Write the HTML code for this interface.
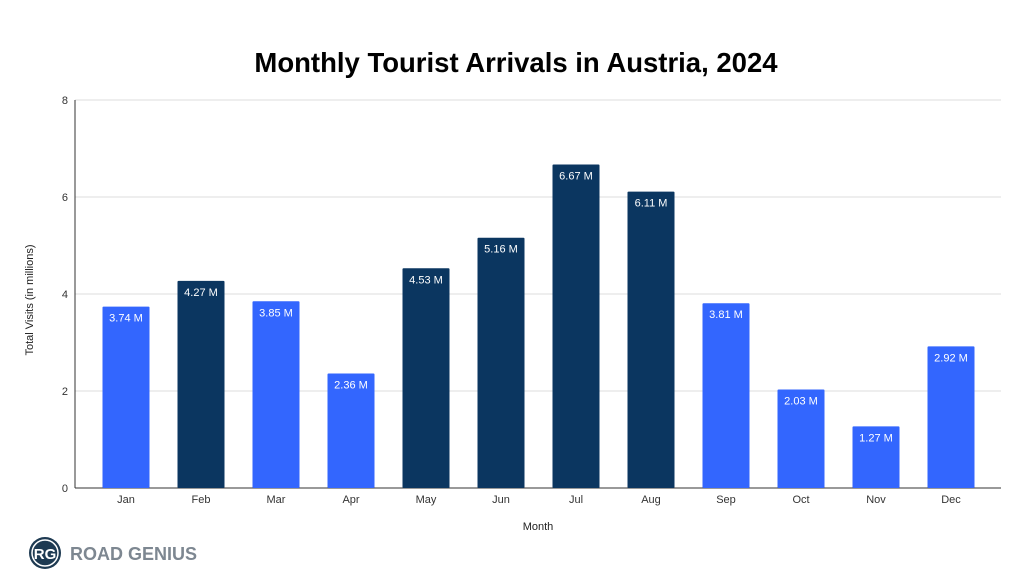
<!DOCTYPE html>
<html><head><meta charset="utf-8"><style>
body{margin:0;background:#fff;width:1024px;height:582px;overflow:hidden;font-family:"Liberation Sans",sans-serif}
</style></head><body>
<svg width="1024" height="582">
<text x="516" y="72" text-anchor="middle" font-size="27.5" font-weight="bold" fill="#000">Monthly Tourist Arrivals in Austria, 2024</text>
<g id="grid"></g><g id="bars"></g>
<text x="538" y="530" text-anchor="middle" font-size="11" fill="#222">Month</text>
<text transform="translate(33,300) rotate(-90)" text-anchor="middle" font-size="11" fill="#222">Total Visits (in millions)</text>
<g>
<circle cx="45" cy="553" r="16" fill="#1e3a52"/><circle cx="45" cy="553" r="13" fill="none" stroke="#fff" stroke-width="1.5"/>
<text x="45" y="559" text-anchor="middle" font-size="15" font-weight="bold" fill="#fff">RG</text>
<text x="70" y="560" font-size="18" font-weight="bold" fill="#7d8791">ROAD GENIUS</text>
</g>
</svg>
<script>
const months=["Jan","Feb","Mar","Apr","May","Jun","Jul","Aug","Sep","Oct","Nov","Dec"];
const visits=[3.74,4.27,3.85,2.36,4.53,5.16,6.67,6.11,3.81,2.03,1.27,2.92];
const peak=[0,1,0,0,1,1,1,1,0,0,0,0];
const yTicks=[0,2,4,6,8];
const NS="http://www.w3.org/2000/svg";
const x0=75,x1=1001,y0=488,yTop=100;
const y=v=>y0-(y0-yTop)*v/8;
const xc=i=>126+75*i;
function mk(t,a,p){const e=document.createElementNS(NS,t);for(const k in a)e.setAttribute(k,a[k]);p.appendChild(e);return e;}
const g=document.getElementById('grid'),b=document.getElementById('bars');
yTicks.forEach(t=>{
 const l=mk('line',{x1:x0,x2:x1,y1:y(t),y2:y(t),stroke:t?'#ddd':'#333','stroke-width':1},g);
 
 
 const tx=mk('text',{x:68,y:y(t)+4,'text-anchor':'end','font-size':11,fill:'#333'},g);tx.textContent=t;
 
 
});
const ax=mk('line',{x1:x0,x2:x0,y1:yTop,y2:y0,stroke:'#333'},g);


months.forEach((m,i)=>{
 const w=47,v=visits[i];
 const r=mk('rect',{x:xc(i)-w/2,y:y(v),width:w,height:y0-y(v),fill:peak[i]?'#0b3660':'#3366fe',rx:1},b);
 
 
 const lb=mk('text',{x:xc(i),y:y(v)+15,'text-anchor':'middle','font-size':11,fill:'#fff'},b);lb.textContent=v.toFixed(2)+' M';
 
 
 const xl=mk('text',{x:xc(i),y:503,'text-anchor':'middle','font-size':11,fill:'#333'},b);xl.textContent=m;
 
 
});
</script>
</body></html>
